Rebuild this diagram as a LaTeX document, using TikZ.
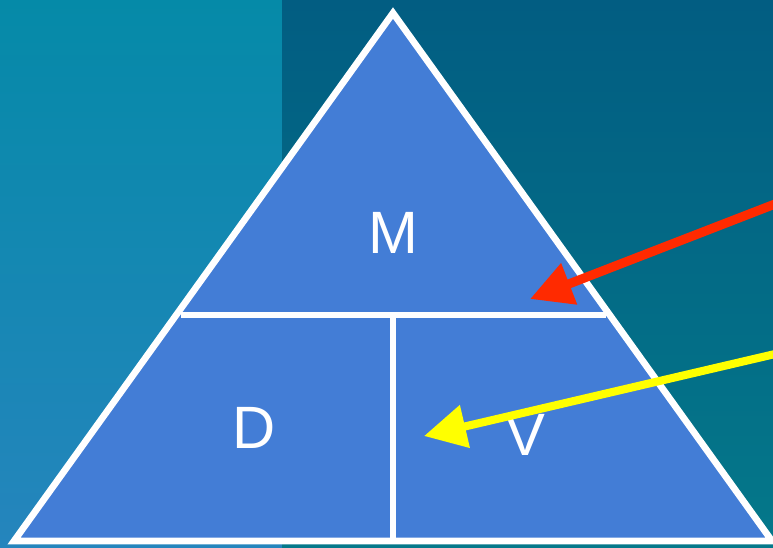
\documentclass[tikz,border=0pt]{standalone}
\usepackage{fontspec}
\setmainfont{Liberation Sans}
\usetikzlibrary{arrows.meta}

\definecolor{bgleftA}{HTML}{058AA8}
\definecolor{bgleftB}{HTML}{2585BD}
\definecolor{bgrightA}{HTML}{025D82}
\definecolor{bgrightB}{HTML}{04788A}
\definecolor{trifill}{HTML}{437DD6}
\definecolor{arrred}{HTML}{FF2A00}
\definecolor{arryellow}{HTML}{FFFF00}

\begin{document}
\begin{tikzpicture}[x=0.01cm,y=-0.01cm,
    edge/.style={white,line width=1.9pt,line join=miter},
    letter/.style={text=white,font=\fontsize{17}{17}\selectfont},
    pointer/.style={line width=2.6pt,-{Triangle[length=0.42cm,width=0.42cm]}}]

    % パラメータの定義
    \pgfmathsetmacro{\W}{773}
    \pgfmathsetmacro{\H}{547}
    \pgfmathsetmacro{\split}{282}
    \pgfmathsetmacro{\midy}{315}

    \useasboundingbox (0,0) rectangle (\W,\H);

    % 背景を描画
    \shade[top color=bgleftA,bottom color=bgleftB] (0,0) rectangle (\split,\H);
    \shade[top color=bgrightA,bottom color=bgrightB] (\split,0) rectangle (\W,\H);

    \coordinate (T) at (393,13);
    \coordinate (L) at (14,541);
    \coordinate (R) at (772,541);
    \coordinate (ML) at (180.5,\midy);
    \coordinate (MR) at (605.5,\midy);
    \coordinate (MC) at (393,\midy);
    \coordinate (BC) at (393,541);

    % 三角形を描画
    \fill[trifill] (T) -- (L) -- (R) -- cycle;
    \draw[edge] (T) -- (L) -- (R) -- cycle;
    \draw[edge] (ML) -- (MR);
    \draw[edge] (MC) -- (BC);

    % 文字の描画
    \node[letter] (M) at (393,233) {M};
    \node[letter] (D) at (254,428) {D};
    \node[letter] (V) at (525,435) {V};

    % 矢印の描画
    \coordinate (redstart) at (775,204);
    \coordinate (redtip) at (530,299);
    \coordinate (yelstart) at (775,354);
    \coordinate (yeltip) at (424,436);
    \draw[pointer,arrred] (redstart) -- (redtip);
    \draw[pointer,arryellow,line width=2.3pt] (yelstart) -- (yeltip);

\end{tikzpicture}
\end{document}
